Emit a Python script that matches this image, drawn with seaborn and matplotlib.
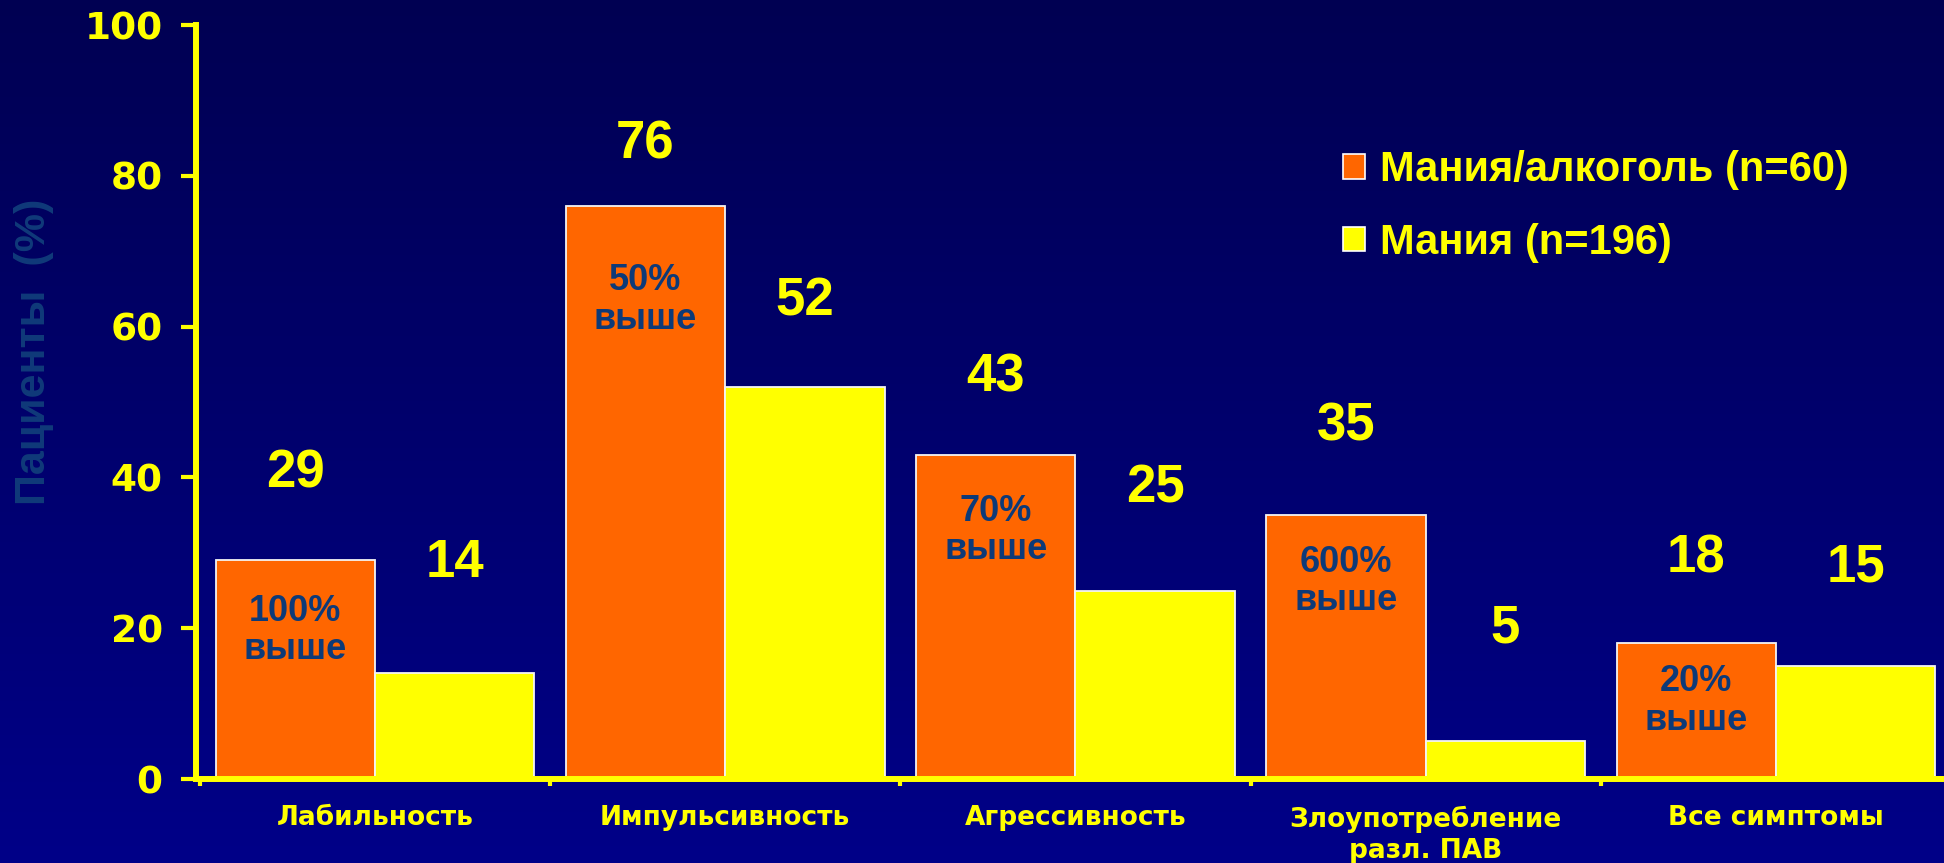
import numpy as np
import pandas as pd
import matplotlib
matplotlib.use("Agg")
import matplotlib.pyplot as plt
import seaborn as sns
from matplotlib.colors import LinearSegmentedColormap
from matplotlib.patches import Patch

categories = ["Лабильность", "Импульсивность", "Агрессивность",
              "Злоупотребление\nразл. ПАВ", "Все симптомы"]
series_names = ["Мания/алкоголь (n=60)", "Мания (n=196)"]
mania_alcohol = [29, 76, 43, 35, 18]
mania = [14, 52, 25, 5, 15]
excess_text = ["100%\nвыше", "50%\nвыше", "70%\nвыше", "600%\nвыше", "20%\nвыше"]
y_ticks = [0, 20, 40, 60, 80, 100]

# label placement (data units above / below bar tops)
lift_a = [11.5, 8.2, 10.3, 11.7, 11.2]
lift_b = [14.6, 11.3, 13.5, 14.9, 13.1]
inner_drop = [4.4, 7.6, 5.2, 3.9, 2.8]

df = pd.DataFrame({
    "category": categories * 2,
    "value": mania_alcohol + mania,
    "series": [series_names[0]] * len(categories) + [series_names[1]] * len(categories),
})

ORANGE = "#ff6600"
YELLOW = "#ffff00"
NAVY_TXT = "#0d3a78"

sns.set_theme(style="white")
plt.rcParams["font.family"] = ["Liberation Sans", "DejaVu Sans"]

fig = plt.figure(figsize=(19.44, 8.63), dpi=100)

# gradient background
bg = fig.add_axes([0, 0, 1, 1], zorder=0)
cmap = LinearSegmentedColormap.from_list("bg", ["#000052", "#000088"])
bg.imshow(np.linspace(0, 1, 256).reshape(-1, 1), aspect="auto", cmap=cmap,
          extent=[0, 1, 0, 1])
bg.axis("off")

ax = fig.add_axes([196 / 1944, 1 - 779 / 863, 1 - 196 / 1944, 754 / 863], zorder=1)
ax.set_facecolor("none")

sns.barplot(data=df, x="category", y="value", hue="series",
            order=categories, hue_order=series_names,
            palette=[ORANGE, YELLOW], width=0.91, saturation=1,
            edgecolor="#f4f4f4", linewidth=1.3, legend=False, ax=ax)

ax.set_xlim(-0.511, 4.48)
ax.set_ylim(0, 100)
ax.set_xlabel("")
ax.set_ylabel("")

for s in ["top", "right"]:
    ax.spines[s].set_visible(False)
for s in ["left", "bottom"]:
    ax.spines[s].set_color(YELLOW)
    ax.spines[s].set_linewidth(4.3)

ax.set_yticks(y_ticks)
ax.set_yticklabels([str(t) for t in y_ticks])
ax.tick_params(axis="y", length=11, width=3, color=YELLOW, pad=13,
               labelcolor=YELLOW, left=True)
for lbl in ax.get_yticklabels():
    lbl.set_fontfamily("DejaVu Sans")
    lbl.set_fontweight("heavy")
    lbl.set_fontsize(27)

ax.set_xticks(range(len(categories)))
ax.set_xticklabels(categories)
ax.set_xticks([-0.5, 0.5, 1.5, 2.5, 3.5], minor=True)
ax.tick_params(axis="x", which="major", length=0, pad=19, labelcolor=YELLOW)
ax.tick_params(axis="x", which="minor", length=5, width=3, color=YELLOW, bottom=True)
for lbl in ax.get_xticklabels():
    lbl.set_fontfamily("DejaVu Sans")
    lbl.set_fontweight("bold")
    lbl.set_fontsize(19)
    lbl.set_linespacing(1.25)

# value labels above bars
for cont, lifts in zip(ax.containers, [lift_a, lift_b]):
    for bar, lift in zip(cont, lifts):
        h = bar.get_height()
        ax.text(bar.get_x() + bar.get_width() / 2, h + lift, f"{h:.0f}",
                ha="center", va="center", fontsize=38, fontweight="bold",
                color=YELLOW, family="Liberation Sans")

# "% higher" text inside orange bars
for bar, txt, drop in zip(ax.containers[0], excess_text, inner_drop):
    ax.text(bar.get_x() + bar.get_width() / 2, bar.get_height() - drop, txt,
            ha="center", va="top", fontsize=26, fontweight="bold",
            color=NAVY_TXT, family="Liberation Sans", linespacing=1.12)

ax.text(-0.0927, 0.566, "Пациенты  (%)", transform=ax.transAxes, rotation=90,
        ha="center", va="center", fontsize=31, fontweight="bold",
        color="#103a7a", family="Liberation Sans", clip_on=False)

handles = [Patch(facecolor=ORANGE, edgecolor="white", linewidth=1.2),
           Patch(facecolor=YELLOW, edgecolor="white", linewidth=1.2)]
leg = ax.legend(handles, series_names, loc="center left",
                bbox_to_anchor=(1343 / 1944, 1 - 206.5 / 863),
                bbox_transform=fig.transFigure, frameon=False,
                prop={"family": "Liberation Sans", "weight": "bold", "size": 30},
                handlelength=0.53, handleheight=0.53, handletextpad=0.36,
                labelspacing=0.78, borderpad=0, borderaxespad=0)
for t in leg.get_texts():
    t.set_color(YELLOW)

fig.savefig("out.png", dpi=100)
